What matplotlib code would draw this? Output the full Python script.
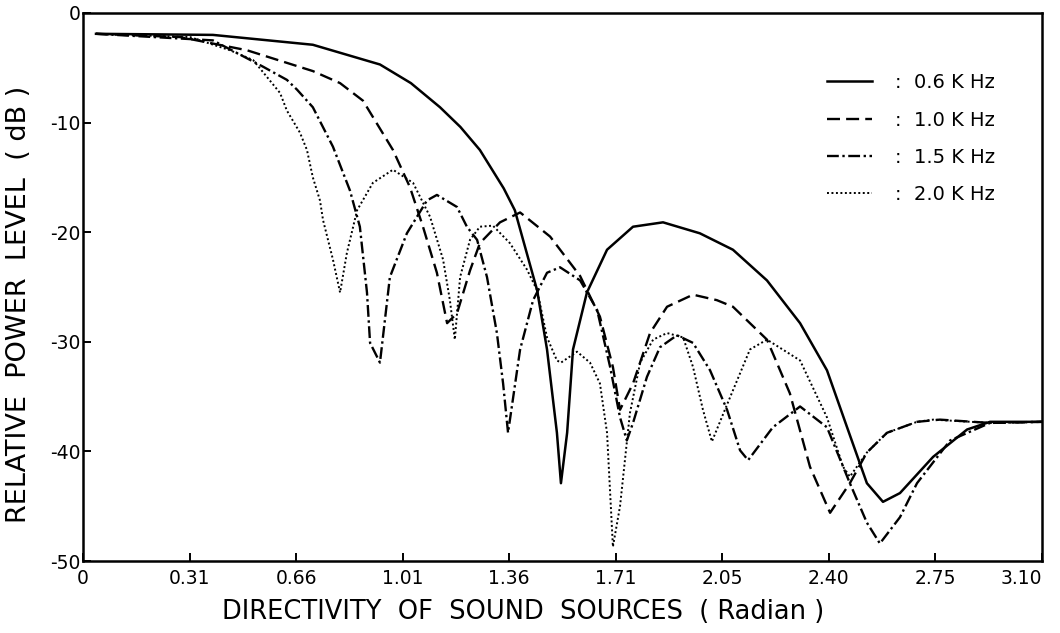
"""
Directivity of the sound sources: relative power level versus angle
for four source frequencies.
Output: out.png
"""
import numpy as np
import matplotlib.pyplot as plt

FIG_PATH = "out.png"

# angle (rad) / level (dB) for each frequency
ANG_06 = [0.042, 0.420, 0.743, 0.960, 1.060, 1.154, 1.220, 1.283, 1.316, 1.360,
          1.396, 1.468, 1.500, 1.532, 1.545, 1.565, 1.584, 1.629, 1.694, 1.778,
          1.875, 1.994, 2.101, 2.156, 2.211, 2.318, 2.405, 2.470, 2.534, 2.586,
          2.641, 2.748, 2.858, 2.932, 3.100]
DB_06 = [-1.9, -2.0, -2.9, -4.7, -6.4, -8.6, -10.4, -12.5, -14.0, -16.0,
         -18.0, -25.3, -30.7, -38.3, -42.9, -38.3, -30.7, -25.5, -21.6, -19.5,
         -19.1, -20.1, -21.6, -23.0, -24.4, -28.3, -32.6, -37.8, -42.9, -44.6,
         -43.8, -40.5, -38.0, -37.3, -37.3]

ANG_10 = [0.042, 0.314, 0.530, 0.743, 0.831, 0.905, 1.002, 1.057, 1.099, 1.144,
          1.177, 1.209, 1.251, 1.283, 1.348, 1.413, 1.510, 1.607, 1.671, 1.713,
          1.736, 1.778, 1.833, 1.888, 1.972, 2.049, 2.101, 2.156, 2.211, 2.285,
          2.350, 2.415, 2.479, 2.534, 2.599, 2.696, 2.770, 2.932, 3.100]
DB_10 = [-1.9, -2.2, -3.4, -5.3, -6.4, -8.0, -12.5, -15.9, -19.5, -23.7,
         -28.3, -27.4, -23.5, -21.0, -19.1, -18.2, -20.4, -24.0, -27.7, -32.3,
         -36.2, -33.8, -29.2, -26.8, -25.7, -26.2, -26.8, -28.3, -29.8, -34.7,
         -41.4, -45.6, -42.9, -40.1, -38.3, -37.3, -37.1, -37.4, -37.3]

ANG_15 = [0.042, 0.420, 0.582, 0.659, 0.692, 0.743, 0.808, 0.863, 0.895, 0.918,
          0.928, 0.960, 0.992, 1.047, 1.112, 1.144, 1.209, 1.241, 1.274, 1.306,
          1.338, 1.358, 1.374, 1.413, 1.455, 1.500, 1.542, 1.607, 1.662, 1.704,
          1.736, 1.758, 1.778, 1.823, 1.865, 1.920, 1.972, 2.027, 2.082, 2.124,
          2.150, 2.230, 2.318, 2.405, 2.479, 2.534, 2.576, 2.641, 2.696, 2.803,
          2.932, 3.100]
DB_15 = [-1.9, -2.5, -4.9, -6.1, -7.0, -8.6, -12.2, -16.2, -19.5, -25.5,
         -30.1, -31.9, -24.1, -20.1, -17.1, -16.6, -17.7, -19.5, -20.7, -24.1,
         -29.2, -33.8, -38.3, -30.7, -26.2, -23.7, -23.2, -24.4, -27.1, -32.3,
         -36.9, -39.0, -37.4, -33.2, -30.5, -29.4, -30.1, -32.6, -36.2, -39.9,
         -40.8, -37.8, -35.9, -37.8, -42.9, -46.5, -48.4, -46.0, -42.9, -39.0,
         -37.4, -37.3]

ANG_20 = [0.042, 0.346, 0.475, 0.550, 0.582, 0.637, 0.659, 0.701, 0.724, 0.743,
          0.766, 0.776, 0.808, 0.831, 0.853, 0.886, 0.937, 1.002, 1.067, 1.122,
          1.164, 1.186, 1.202, 1.219, 1.251, 1.283, 1.325, 1.380, 1.435, 1.468,
          1.500, 1.532, 1.545, 1.597, 1.639, 1.671, 1.694, 1.713, 1.736, 1.768,
          1.801, 1.843, 1.888, 1.940, 1.972, 2.004, 2.033, 2.075, 2.156, 2.211,
          2.318, 2.405, 2.457, 2.479, 2.534, 2.599, 2.696, 2.748, 2.932, 3.100]
DB_20 = [-1.9, -2.2, -3.4, -4.3, -5.4, -7.3, -8.9, -10.9, -12.5, -15.0,
         -17.1, -18.9, -22.5, -25.5, -21.9, -18.0, -15.5, -14.3, -15.5, -18.6,
         -22.5, -26.2, -29.8, -24.1, -20.7, -19.5, -19.4, -21.0, -23.4, -25.3,
         -29.6, -31.7, -31.9, -30.9, -31.9, -33.8, -38.3, -48.7, -45.0, -36.5,
         -31.9, -29.8, -29.2, -29.6, -32.3, -36.2, -39.1, -36.2, -30.7, -29.8,
         -31.7, -36.9, -41.4, -42.3, -40.1, -38.3, -37.3, -37.1, -37.4, -37.3]

LABELS = ["0.6 K Hz", "1.0 K Hz", "1.5 K Hz", "2.0 K Hz"]
X_TICK_LABELS = ["0", "0.31", "0.66", "1.01", "1.36", "1.71", "2.05",
                 "2.40", "2.75", "3.10"]
Y_TICKS = [0, -10, -20, -30, -40, -50]

plt.rcParams["axes.unicode_minus"] = False
plt.rcParams["font.family"] = "DejaVu Sans"

fig = plt.figure(figsize=(10.6, 6.33), dpi=100)
ax = fig.add_axes([0.0783, 0.1137, 0.9047, 0.8658])

ax.plot(ANG_06, DB_06, color="black", lw=1.8, ls="-", label=LABELS[0])
ax.plot(ANG_10, DB_10, color="black", lw=1.7, ls=(0, (5.5, 2.6)), label=LABELS[1])
ax.plot(ANG_15, DB_15, color="black", lw=1.7, ls=(0, (5, 1.5, 1, 1.5)), label=LABELS[2])
ax.plot(ANG_20, DB_20, color="black", lw=1.4, ls=(0, (1, 1.3)), label=LABELS[3])

ax.set_xlim(0, 3.10)
ax.set_ylim(-50, 0)
ax.set_xticks(np.linspace(0, 3.10, len(X_TICK_LABELS)))
ax.set_xticklabels(X_TICK_LABELS)
ax.set_yticks(Y_TICKS)
ax.tick_params(direction="in", length=6, width=1.4, labelsize=13.5)
ax.tick_params(axis="y", pad=2)
ax.tick_params(axis="x", pad=6)
# last label sits inside the right edge
ax.get_xticklabels()[-1].set_horizontalalignment("right")
for s in ax.spines.values():
    s.set_linewidth(1.8)

ax.set_xlabel("DIRECTIVITY  OF  SOUND  SOURCES  ( Radian )", fontsize=18.5)
ax.xaxis.set_label_coords(0.459, -0.07)
ax.set_ylabel("RELATIVE  POWER  LEVEL  ( dB )", fontsize=19.5)
ax.yaxis.set_label_coords(-0.053, 0.468)

leg = ax.legend(frameon=False, loc="upper left", bbox_to_anchor=(0.758, 0.922),
                handlelength=2.3, fontsize=14, labelspacing=0.94,
                handletextpad=1.2)
for t in leg.get_texts():
    t.set_text(":  " + t.get_text())

fig.savefig(FIG_PATH, dpi=100)
plt.close()
print(f"Saved {FIG_PATH}")
